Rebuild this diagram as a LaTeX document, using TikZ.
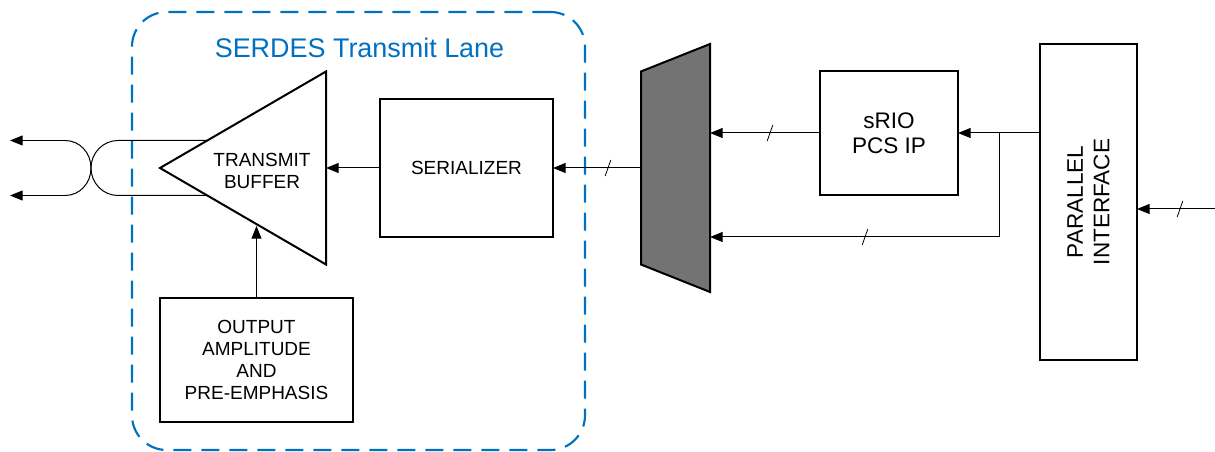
\documentclass[tikz,border=0pt]{standalone}
\usepackage{fontspec}
\setmainfont{Liberation Sans}
\usetikzlibrary{positioning, arrows.meta, shapes.geometric}
\definecolor{laneblue}{HTML}{0070C0}
\definecolor{muxgray}{HTML}{737373}

\begin{document}
\begin{tikzpicture}[
        x=0.75pt, y=-0.75pt,
        block/.style={rectangle, draw, line width=1.5pt, outer sep=0pt, inner sep=0pt, align=center, font=\fontsize{14.25}{16.7}\selectfont},
        bigblock/.style={block, font=\fontsize{16.9}{18.6}\selectfont},
        plain/.style={align=center, inner sep=0pt, font=\fontsize{14.25}{16.7}\selectfont},
        arrow/.style={line width=0.75pt, -{Triangle[length=9.5pt, width=7.5pt]}},
        wire/.style={line width=0.75pt},
        slash/.style={line width=0.6pt}
    ]
    \useasboundingbox (0,0) rectangle (1215,452);

    \node[rectangle, draw=laneblue, line width=1.6pt, rounded corners=26pt, dash pattern=on 13.5pt off 7.5pt,
        minimum width=339.75pt, minimum height=328.5pt] (lane) at (358.5,231) {};
    \node[text=laneblue, inner sep=0pt, font=\fontsize{20.2}{24}\selectfont] (lanetitle) at (359.5,47.5) {SERDES Transmit Lane};

    \node[draw, line width=1.5pt, isosceles triangle, isosceles triangle stretches, shape border rotate=180,
        minimum width=144.75pt, minimum height=124.5pt, inner sep=0pt, outer sep=0pt, anchor=apex] (buffer) at (160,168) {};
    \node[plain] (buffertext) at (262,171) {TRANSMIT\\BUFFER};
    \node[block, minimum width=129.75pt, minimum height=103.5pt] (serializer) at (466.5,168) {SERIALIZER};
    \node[block, minimum width=144.75pt, minimum height=93pt] (amplitude) at (256.5,360) {OUTPUT\\AMPLITUDE\\AND\\PRE-EMPHASIS};
    \node[draw, line width=1.5pt, fill=muxgray, trapezium, rotate=90, trapezium angle=68.3, outer sep=0pt,
        inner xsep=72.4pt, inner ysep=25.875pt] (mux) at (675.5,168) {};
    \node[bigblock, minimum width=103.5pt, minimum height=93pt] (srio) at (889,133) {sRIO\\PCS IP};
    \node[bigblock, rotate=90, minimum width=237pt, minimum height=72.75pt, font=\fontsize{16.9}{19.8}\selectfont] (parallel) at (1088.5,202) {PARALLEL\\INTERFACE};

    \coordinate (bufferin) at (256.5,226);
    \coordinate (outtop) at (207,140.5);
    \coordinate (outbottom) at (207,195.5);
    \coordinate (pairtop) at (10,140.5);
    \coordinate (pairbottom) at (10,195.5);
    \coordinate (junction) at (999,133);
    \coordinate (inputend) at (1215,209);

    \draw[arrow] (serializer.west) -- (serializer.west -| buffer.lower side);
    \draw[arrow] (amplitude.north) -- (bufferin);
    \draw[arrow] (mux.north) -- (serializer.east);
    \draw[arrow] (srio.west) -- (srio.west -| mux.south);
    \draw[arrow] (parallel.north |- junction) -- (srio.east |- junction);
    \draw[wire] (junction) -- (999,237) -- (865,237);
    \draw[arrow] (865,237) -- (mux.south |- 865,237);
    \draw[arrow] (inputend) -- (inputend -| parallel.south);

    \draw[arrow] (65,140.5) -- (pairtop);
    \draw[arrow] (65,195.5) -- (pairbottom);
    \draw[wire] (65,140.5) .. controls (80,140.5) and (91,153) .. (91,168) .. controls (91,183) and (80,195.5) .. (65,195.5);
    \draw[wire] (outtop) -- (118,140.5) .. controls (103,140.5) and (91,153) .. (91,168) .. controls (91,183) and (103,195.5) .. (118,195.5) -- (outbottom);

    % bus marks
    \foreach \x/\y in {608/168, 770/133, 865/237, 1180/209}
        \draw[slash] (\x-2.8,\y+8) -- (\x+2.8,\y-8);
\end{tikzpicture}
\end{document}
